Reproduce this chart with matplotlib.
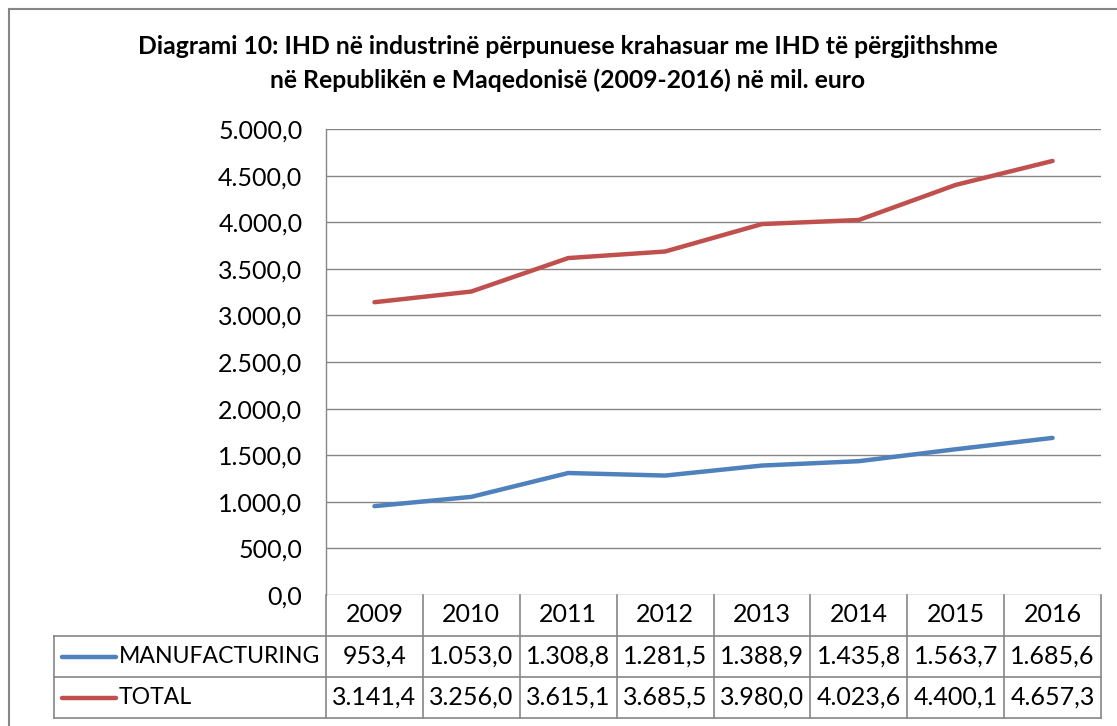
"""Excel-style line chart with a data table: IHD manufacturing vs total."""

import matplotlib

matplotlib.use("Agg")
import matplotlib.pyplot as plt
import matplotlib.transforms as mtransforms
from matplotlib.lines import Line2D

years = ["2009", "2010", "2011", "2012", "2013", "2014", "2015", "2016"]
manufacturing = [953.4, 1053.0, 1308.8, 1281.5, 1388.9, 1435.8, 1563.7, 1685.6]
total = [3141.4, 3256.0, 3615.1, 3685.5, 3980.0, 4023.6, 4400.1, 4657.3]
series_names = ["MANUFACTURING", "TOTAL"]
y_ticks = [0, 500, 1000, 1500, 2000, 2500, 3000, 3500, 4000, 4500, 5000]

W, H = 1117, 726
BLUE = "#4F81BD"
RED = "#C0504D"
GREY = "#868686"
FS = 18


def fmt(value: float) -> str:
    text = f"{value:,.1f}"
    return text.replace(",", "X").replace(".", ",").replace("X", ".")


def fx(px: float) -> float:
    return px / W


def fy(py: float) -> float:
    return 1 - py / H


plt.rcParams["font.family"] = ["Lato", "DejaVu Sans"]

fig = plt.figure(figsize=(W / 100, H / 100), dpi=100)

# outer chart border (cut off on the right and bottom in the reference)
fig.add_artist(Line2D([fx(9), fx(9)], [fy(9), 0], color=GREY, lw=1.5))
fig.add_artist(Line2D([fx(9), 1], [fy(9), fy(9)], color=GREY, lw=1.5))

fig.text(
    fx(568), fy(47),
    "Diagrami 10: IHD në industrinë përpunuese krahasuar me IHD të përgjithshme",
    ha="center", va="center", fontsize=17.8, fontweight="bold",
)
fig.text(
    fx(568), fy(80),
    "në Republikën e Maqedonisë (2009-2016) në mil. euro",
    ha="center", va="center", fontsize=17.8, fontweight="bold",
)

left, right, top, bottom = 326, 1101, 129, 595
ax = fig.add_axes([fx(left), fy(bottom), fx(right - left), (bottom - top) / H])

x = list(range(len(years)))
ax.plot(x, manufacturing, color=BLUE, lw=3.2, solid_capstyle="round")
ax.plot(x, total, color=RED, lw=3.2, solid_capstyle="round")

ax.set_xlim(-0.5, len(years) - 0.5)
ax.set_ylim(0, 5000)
ax.set_yticks(y_ticks)
ax.set_yticklabels([fmt(v) for v in y_ticks], fontsize=FS)
ax.set_xticks([])
ax.tick_params(axis="y", length=0, pad=17)
ax.grid(axis="y", color=GREY, lw=1)
ax.set_axisbelow(True)
for side in ("top", "right", "bottom"):
    ax.spines[side].set_visible(False)
ax.spines["left"].set_color(GREY)
ax.spines["left"].set_linewidth(1)

# data table under the plot
blend = mtransforms.blended_transform_factory(ax.transData, fig.transFigure)
row_edges = [595, 636, 677, 718]
for i in range(len(years) + 1):
    fig.add_artist(
        Line2D([i - 0.5, i - 0.5], [fy(row_edges[0]), fy(row_edges[-1])],
               transform=blend, color=GREY, lw=1.2)
    )
for edge in row_edges[1:]:
    fig.add_artist(Line2D([fx(54), fx(right)], [fy(edge), fy(edge)], color=GREY, lw=1.2))
fig.add_artist(Line2D([fx(54), fx(54)], [fy(636), fy(718)], color=GREY, lw=1.2))

for i, year in enumerate(years):
    fig.text(i, fy(615), year, transform=blend, ha="center", va="center", fontsize=FS)

for row, (name, values, color) in enumerate(
    zip(series_names, [manufacturing, total], [BLUE, RED])
):
    yc = fy((row_edges[row + 1] + row_edges[row + 2]) / 2)
    fig.add_artist(
        Line2D([fx(62), fx(116)], [yc, yc], color=color, lw=3.2, solid_capstyle="round")
    )
    fig.text(fx(119), yc, name, ha="left", va="center", fontsize=16.6)
    for i, value in enumerate(values):
        fig.text(i, yc, fmt(value), transform=blend, ha="center", va="center", fontsize=FS)

fig.savefig("out.png", dpi=100)
